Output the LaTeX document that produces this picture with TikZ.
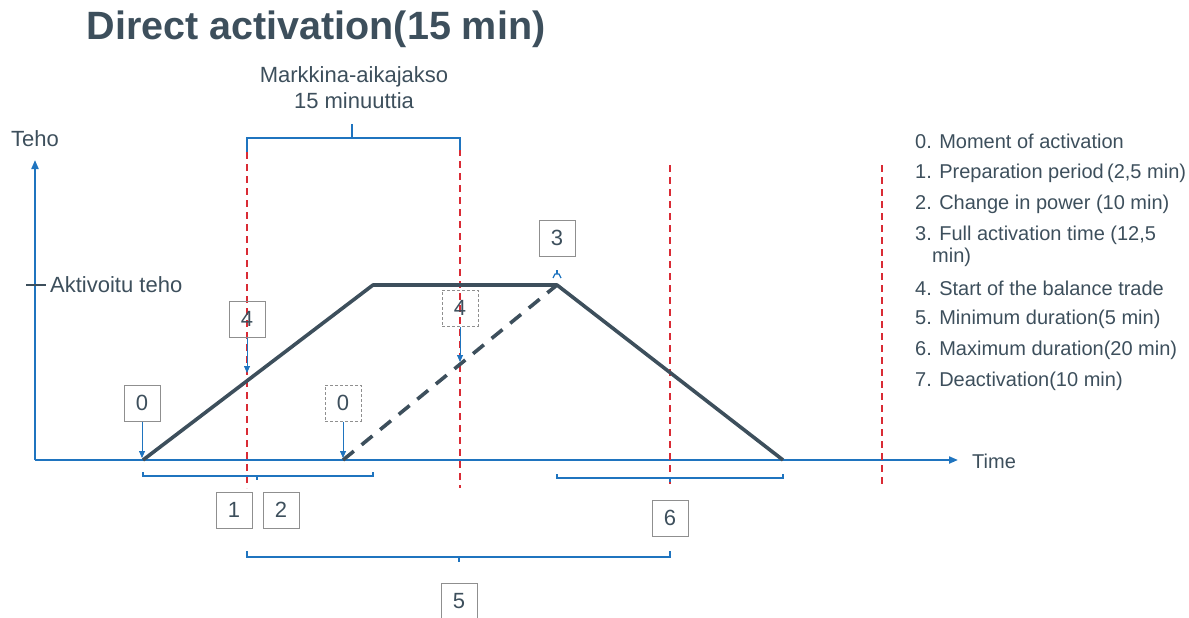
\documentclass[tikz,border=0pt]{standalone}
\usepackage{fontspec}
\setmainfont{Liberation Sans}
\usetikzlibrary{arrows.meta}
\definecolor{slate}{HTML}{3D4F5C}
\definecolor{axblue}{HTML}{1F74BF}
\definecolor{redd}{HTML}{D92B35}
\definecolor{boxgray}{HTML}{8F8F8F}
\tikzset{
  axis/.style={draw=axblue, line width=2pt},
  brk/.style={draw=axblue, line width=1.8pt},
  reddash/.style={draw=redd, line width=2pt, dash pattern=on 7pt off 5pt},
  curve/.style={draw=slate, line width=3.6pt},
  curvedash/.style={draw=slate, line width=3.6pt, dash pattern=on 14pt off 10pt},
  numbox/.style={draw=boxgray, line width=1pt, minimum width=36pt, minimum height=36pt, inner sep=0pt, text=slate, font=\fontsize{22}{24}\selectfont},
  dbox/.style={numbox, dash pattern=on 3pt off 2pt},
  ptr/.style={draw=axblue, line width=0.8pt, -{Triangle[length=7pt,width=6pt]}},
  lbl/.style={text=slate, font=\fontsize{22}{24}\selectfont, inner sep=0pt},
  leg/.style={text=slate, font=\fontsize{20}{22}\selectfont, anchor=west, inner sep=0pt}
}
\begin{document}
\begin{tikzpicture}[x=1pt,y=-1pt]
\useasboundingbox (0,0) rectangle (1189,618);
% title
\node[text=slate, font=\fontsize{39.5}{42}\selectfont\bfseries, inner sep=0pt] (title) at (316,29) {Direct activation(15 min)};
% market period label
\node[lbl, align=center, font=\fontsize{22}{26}\selectfont] (market) at (354,88) {Markkina-aikajakso\\15 minuuttia};
% axes
\coordinate (O) at (35,460);
\coordinate (ytop) at (35,160);
\coordinate (xend) at (958,460);
\draw[axis, -{Triangle[length=9pt,width=7pt]}] (O) -- (ytop);
\draw[axis, -{Triangle[length=9pt,width=7pt]}] (O) -- (xend);
\node[lbl, anchor=west, font=\fontsize{20}{22}\selectfont] (time) at (972,461) {Time};
\node[lbl] (teho) at (35,139) {Teho};
\coordinate (tk1) at (26,285);
\coordinate (tk2) at (46,285);
\draw[draw=slate, line width=2.5pt] (tk1) -- (tk2);
\node[lbl, anchor=west] (akt) at (50,285) {Aktivoitu teho};
% red dashed verticals
\coordinate (r1a) at (247,152); \coordinate (r1b) at (247,488);
\coordinate (r2a) at (460,137); \coordinate (r2b) at (460,488);
\coordinate (r3a) at (670,165); \coordinate (r3b) at (670,488);
\coordinate (r4a) at (882,165); \coordinate (r4b) at (882,488);
\draw[reddash] (r1a) -- (r1b);
\draw[reddash] (r2a) -- (r2b);
\draw[reddash] (r3a) -- (r3b);
\draw[reddash] (r4a) -- (r4b);
% top bracket
\coordinate (tb1) at (247,152); \coordinate (tb2) at (247,138);
\coordinate (tb3) at (460,138); \coordinate (tb4) at (460,150);
\coordinate (tbm) at (352,138); \coordinate (tbt) at (352,124);
\draw[brk] (tb1) -- (tb2) -- (tb3) -- (tb4);
\draw[brk] (tbm) -- (tbt);
% trapezoid
\coordinate (p0) at (143,460);
\coordinate (p1) at (373,285);
\coordinate (p2) at (557,285);
\coordinate (p3) at (783,460);
\coordinate (q0) at (343,460);
\draw[curve, line join=round] (p0) -- (p1) -- (p2) -- (p3);
\draw[curvedash] (q0) -- (p2);
% boxes and pointers
\node[numbox] (b0) at (142,403) {0};
\coordinate (b0t) at (142,458);
\draw[ptr] (b0) -- (b0t);
\node[numbox] (b4) at (247,319) {4};
\coordinate (b4t) at (247,373);
\draw[ptr] (b4) -- (b4t);
\node[dbox] (b0d) at (343,403) {0};
\coordinate (b0dt) at (343,458);
\draw[ptr] (b0d) -- (b0dt);
\node[dbox] (b4d) at (460,308) {4};
\coordinate (b4dt) at (460,362);
\draw[ptr] (b4d) -- (b4dt);
\node[numbox] (b3) at (557,238) {3};
% small mark above corner
\coordinate (m1) at (553,278); \coordinate (m2) at (555,274);
\coordinate (m3) at (559,274); \coordinate (m4) at (561,278);
\coordinate (m5) at (557,274); \coordinate (m6) at (557,270);
\draw[draw=axblue, line width=1.3pt] (m1) -- (m2) -- (m3) -- (m4);
\draw[draw=axblue, line width=1.3pt] (m5) -- (m6);
% bracket 1-2
\coordinate (c1) at (143,472); \coordinate (c2) at (143,476);
\coordinate (c3) at (373,476); \coordinate (c4) at (373,472);
\coordinate (cm) at (257,476); \coordinate (cmt) at (257,480);
\draw[brk] (c1) -- (c2) -- (c3) -- (c4);
\draw[brk] (cm) -- (cmt);
\node[numbox] (b1) at (234,510) {1};
\node[numbox] (b2) at (281,510) {2};
% bracket 6
\coordinate (d1) at (557,474); \coordinate (d2) at (557,478);
\coordinate (d3) at (783,478); \coordinate (d4) at (783,474);
\coordinate (dm) at (670,478); \coordinate (dmt) at (670,482);
\draw[brk] (d1) -- (d2) -- (d3) -- (d4);
\draw[brk] (dm) -- (dmt);
\node[numbox] (b6) at (670,518) {6};
% bracket 5
\coordinate (e1) at (247,551); \coordinate (e2) at (247,557);
\coordinate (e3) at (670,557); \coordinate (e4) at (670,551);
\coordinate (em) at (459,557); \coordinate (emt) at (459,562);
\draw[brk] (e1) -- (e2) -- (e3) -- (e4);
\draw[brk] (em) -- (emt);
\node[numbox] (b5) at (459,601) {5};
% legend
\node[leg] (l0) at (915,141) {0. Moment of activation};
\node[leg] (l1) at (915,173) {1. Preparation period\,(2,5 min)};
\node[leg] (l2) at (915,204) {2. Change in power (10 min)};
\node[leg] (l3) at (915,235) {3. Full activation time (12,5};
\node[leg] (l3b) at (932,257) {min)};
\node[leg] (l4) at (915,288) {4. Start of the balance trade};
\node[leg] (l5) at (915,319) {5. Minimum duration(5 min)};
\node[leg] (l6) at (915,350) {6. Maximum duration(20 min)};
\node[leg] (l7) at (915,381) {7. Deactivation(10 min)};
\end{tikzpicture}
\end{document}
